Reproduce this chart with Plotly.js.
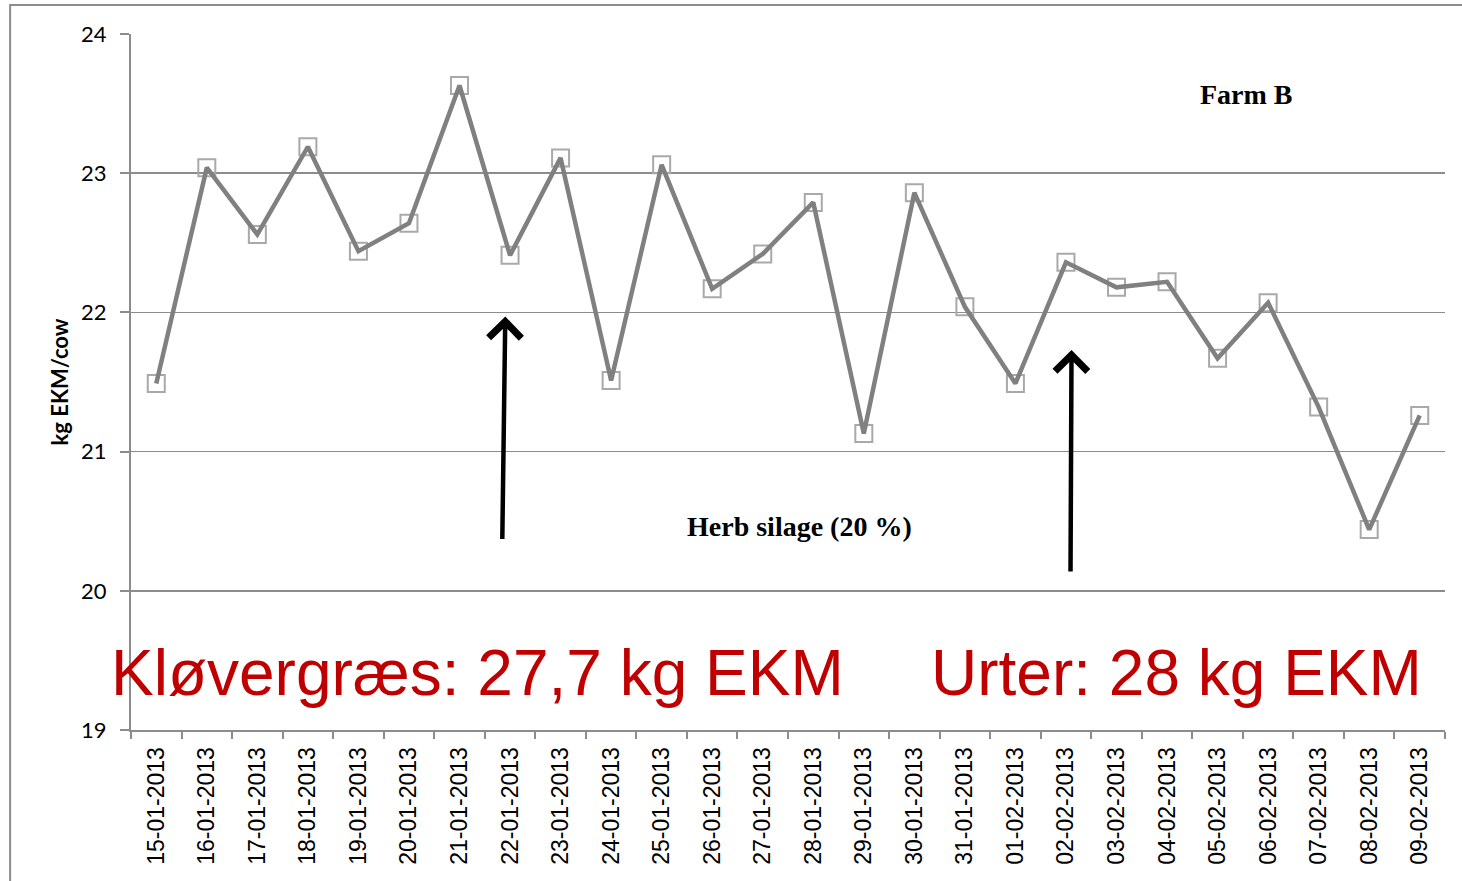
<!DOCTYPE html>
<html>
<head>
<meta charset="utf-8">
<script src="https://cdn.plot.ly/plotly-3.0.1.min.js"></script>
<style>html,body{margin:0;padding:0;background:#fff;}#chart{width:1462px;height:881px;}</style>
</head>
<body>
<div id="chart"></div>
<script>
const dates = ["15-01-2013","16-01-2013","17-01-2013","18-01-2013","19-01-2013","20-01-2013","21-01-2013","22-01-2013","23-01-2013","24-01-2013","25-01-2013","26-01-2013","27-01-2013","28-01-2013","29-01-2013","30-01-2013","31-01-2013","01-02-2013","02-02-2013","03-02-2013","04-02-2013","05-02-2013","06-02-2013","07-02-2013","08-02-2013","09-02-2013"];
const ekm = [21.49,23.04,22.56,23.19,22.44,22.64,23.63,22.41,23.11,21.51,23.06,22.17,22.42,22.79,21.13,22.86,22.04,21.49,22.36,22.18,22.22,21.67,22.07,21.32,20.44,21.26];
const yTicks = [19,20,21,22,23,24];
const farmLabel = "Farm B";
const silageLabel = "Herb silage (20 %)";
const cloverLabel = "Kløvergræs: 27,7 kg EKM";
const herbLabel = "Urter: 28 kg EKM";

const traces = [
  {x: dates, y: ekm, type: 'scatter', mode: 'markers', hoverinfo: 'skip',
   marker: {symbol: 'square-open', size: 17, color: '#a9a9a9', line: {width: 2, color: '#a9a9a9'}}},
  {x: dates, y: ekm, type: 'scatter', mode: 'lines',
   line: {color: '#808080', width: 4.5}}
];

const layout = {
  width: 1462, height: 881,
  margin: {l: 131, r: 17, t: 34, b: 151},
  paper_bgcolor: '#fff', plot_bgcolor: '#fff',
  showlegend: false,
  xaxis: {
    type: 'category', range: [-0.5, dates.length - 0.5], automargin: false,
    showgrid: false, zeroline: false,
    showline: true, linecolor: '#8c8c8c', linewidth: 2,
    ticks: 'outside', tickson: 'boundaries', ticklen: 7, tickwidth: 2, tickcolor: '#8c8c8c',
    ticklabelstandoff: 6,
    tickangle: -90, tickfont: {family: 'Liberation Sans, Arial', size: 23, color: '#000'}
  },
  yaxis: {
    range: [19, 24], tickvals: yTicks, ticktext: yTicks.map(String), automargin: false,
    showgrid: true, gridcolor: '#8c8c8c', gridwidth: 1.5, zeroline: false,
    showline: true, linecolor: '#8c8c8c', linewidth: 2,
    ticks: 'outside', ticklen: 9, tickwidth: 2, tickcolor: '#8c8c8c',
    ticklabelstandoff: 9,
    tickfont: {family: 'Lato, Open Sans', size: 22, color: '#000'},
    title: {text: 'kg EKM/cow', standoff: 6, font: {family: 'Lato, Open Sans', size: 22, color: '#000', weight: 'bold'}}
  },
  shapes: [
    {type: 'rect', xref: 'paper', yref: 'paper', x0: -0.092, x1: 1.02, y0: -0.23, y1: 1.0417,
     line: {color: '#8c8c8c', width: 2}, fillcolor: 'rgba(0,0,0,0)', layer: 'below'}
  ],
  annotations: [
    {xref: 'paper', yref: 'paper', x: 0.8486, y: 0.9124, xanchor: 'center', yanchor: 'middle',
     text: '<b>' + farmLabel + '</b>', showarrow: false,
     font: {family: 'Liberation Serif, Times New Roman', size: 28, color: '#000'}},
    {xref: 'paper', yref: 'paper', x: 0.509, y: 0.293, xanchor: 'center', yanchor: 'middle',
     text: '<b>' + silageLabel + '</b>', showarrow: false,
     font: {family: 'Liberation Serif, Times New Roman', size: 28, color: '#000'}},
    {xref: 'paper', yref: 'paper', x: -0.0168, y: 0.082, xanchor: 'left', yanchor: 'middle', text: cloverLabel, showarrow: false,
     font: {family: 'Liberation Sans, Arial', size: 64, color: '#c00000'}},
    {xref: 'paper', yref: 'paper', x: 0.6074, y: 0.082, xanchor: 'left', yanchor: 'middle', text: herbLabel, showarrow: false,
     font: {family: 'Liberation Sans, Arial', size: 64, color: '#c00000'}},
    {xref: 'x', yref: 'y', x: 6.906, y: 21.97, text: '', showarrow: true, arrowhead: 4, arrowsize: 1.4, arrowwidth: 4.5,
     arrowcolor: '#000', ax: -3, ay: 224, standoff: 0},
    {xref: 'x', yref: 'y', x: 18.11, y: 21.73, text: '', showarrow: true, arrowhead: 4, arrowsize: 1.4, arrowwidth: 4.5,
     arrowcolor: '#000', ax: -1, ay: 223, standoff: 0}
  ]
};

Plotly.newPlot('chart', traces, layout, {displayModeBar: false, staticPlot: true});
</script>
</body>
</html>
